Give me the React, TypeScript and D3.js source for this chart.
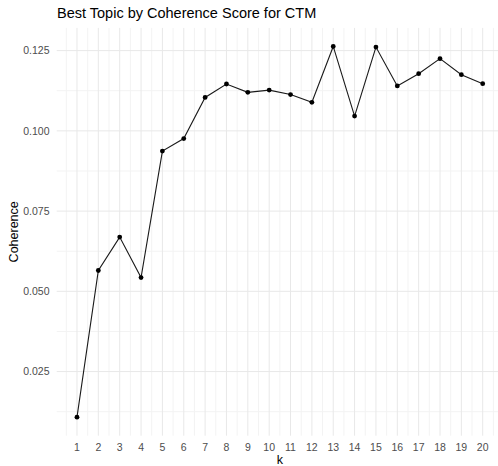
import React from "react";
import * as d3 from "d3";

const kValues = [1, 2, 3, 4, 5, 6, 7, 8, 9, 10, 11, 12, 13, 14, 15, 16, 17, 18, 19, 20];
const coherence = [
  0.0108, 0.0565, 0.0669, 0.0543, 0.0937, 0.0976, 0.1104, 0.1146, 0.112, 0.1127,
  0.1113, 0.1089, 0.1263, 0.1046, 0.1261, 0.114, 0.1178, 0.1225, 0.1175, 0.1147,
];
const yTicks = [0.025, 0.05, 0.075, 0.1, 0.125];
const yMinor = [0.0125, 0.0375, 0.0625, 0.0875, 0.1125];
const title = "Best Topic by Coherence Score for CTM";
const xLabel = "k";
const yLabel = "Coherence";

const W = 498;
const H = 466;
const FONT = "'Liberation Sans', Arial, sans-serif";

export default function App() {
  const xMin = d3.min(kValues)!;
  const xMax = d3.max(kValues)!;
  const xPad = (xMax - xMin) * 0.05;
  const yMinV = d3.min(coherence)!;
  const yMaxV = d3.max(coherence)!;
  const yPad = (yMaxV - yMinV) * 0.05;

  const panel = { left: 56.7, right: 503, top: 27.9, bottom: 435.7 };

  const x = d3.scaleLinear().domain([xMin - xPad, xMax + xPad]).range([panel.left, panel.right]);
  const y = d3.scaleLinear().domain([yMinV - yPad, yMaxV + yPad]).range([panel.bottom, panel.top]);

  const xMinor = kValues.map((k) => k - 0.5).concat([xMax + 0.5]);

  const line = d3
    .line<number>()
    .x((_, i) => x(kValues[i]))
    .y((d) => y(d));

  return (
    <svg width={W} height={H} style={{ position: "absolute", left: 0, top: 0, background: "#fff" }}>
      <rect x={0} y={0} width={W} height={H} fill="#fff" />
      {/* minor grid */}
      {xMinor.map((v) => (
        <line key={"xm" + v} x1={x(v)} x2={x(v)} y1={panel.top} y2={panel.bottom} stroke="#f3f3f3" strokeWidth={1} />
      ))}
      {yMinor.map((v) => (
        <line key={"ym" + v} x1={panel.left} x2={panel.right} y1={y(v)} y2={y(v)} stroke="#f3f3f3" strokeWidth={1} />
      ))}
      {/* major grid */}
      {kValues.map((v) => (
        <line key={"xM" + v} x1={x(v)} x2={x(v)} y1={panel.top} y2={panel.bottom} stroke="#e8e8e8" strokeWidth={1} />
      ))}
      {yTicks.map((v) => (
        <line key={"yM" + v} x1={panel.left} x2={panel.right} y1={y(v)} y2={y(v)} stroke="#e8e8e8" strokeWidth={1} />
      ))}
      {/* line */}
      <path d={line(coherence) || ""} fill="none" stroke="#1a1a1a" strokeWidth={1.1} />
      {coherence.map((v, i) => (
        <circle key={"p" + i} cx={x(kValues[i])} cy={y(v)} r={2.4} fill="#000" />
      ))}
      {/* y tick labels */}
      {yTicks.map((v) => (
        <text key={"yt" + v} x={49.5} y={y(v)} dy="0.35em" textAnchor="end" fontFamily={FONT} fontSize={10.5} fill="#4d4d4d">
          {d3.format(".3f")(v)}
        </text>
      ))}
      {/* x tick labels */}
      {kValues.map((v) => (
        <text key={"xt" + v} x={x(v)} y={450.5} textAnchor="middle" fontFamily={FONT} fontSize={10.5} fill="#4d4d4d">
          {v}
        </text>
      ))}
      <text x={(panel.left + panel.right) / 2} y={464} textAnchor="middle" fontFamily={FONT} fontSize={12.5} fill="#000">
        {xLabel}
      </text>
      <text
        transform={`translate(18, ${(panel.top + panel.bottom) / 2}) rotate(-90)`}
        textAnchor="middle"
        fontFamily={FONT}
        fontSize={12.5}
        fill="#000"
      >
        {yLabel}
      </text>
      <text x={57} y={18} fontFamily={FONT} fontSize={14.5} fill="#000">
        {title}
      </text>
    </svg>
  );
}
